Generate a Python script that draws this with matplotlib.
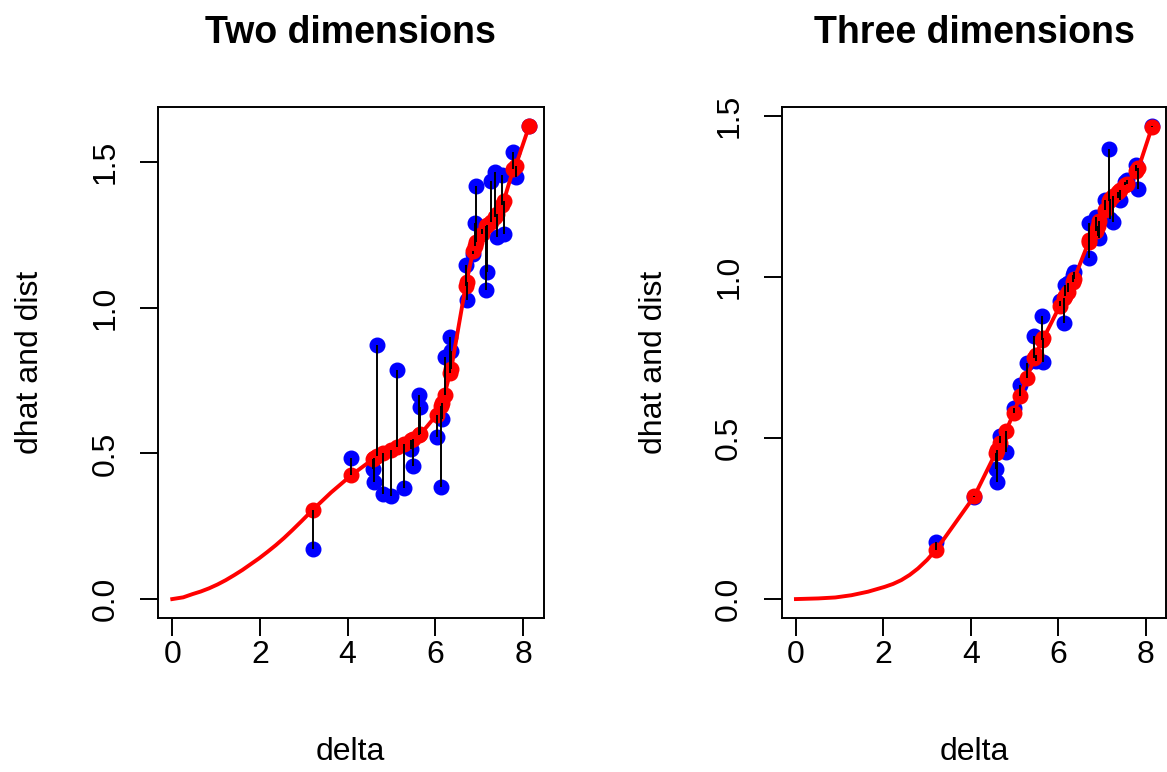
import numpy as np
import matplotlib.pyplot as plt

plt.rcParams['font.family'] = ['Liberation Sans', 'DejaVu Sans']

# Shepard diagram data
delta = [3.20, 4.08, 4.57, 4.60, 4.66, 4.80, 4.98, 5.12, 5.28, 5.45,
         5.48, 5.63, 5.66, 6.03, 6.12, 6.15, 6.21, 6.33, 6.36, 6.69,
         6.71, 6.86, 6.90, 6.93, 7.06, 7.16, 7.18, 7.26, 7.36, 7.41,
         7.52, 7.56, 7.78, 7.83, 8.14]

dist2 = [0.172, 0.486, 0.447, 0.401, 0.873, 0.360, 0.355, 0.787, 0.380, 0.516,
         0.456, 0.702, 0.659, 0.555, 0.385, 0.617, 0.830, 0.900, 0.853, 1.147,
         1.027, 1.184, 1.292, 1.419, 1.270, 1.061, 1.124, 1.436, 1.467, 1.244,
         1.456, 1.253, 1.536, 1.451, 1.625]
dhat2 = [0.306, 0.425, 0.480, 0.484, 0.492, 0.501, 0.512, 0.522, 0.534, 0.548,
         0.551, 0.563, 0.566, 0.633, 0.662, 0.675, 0.702, 0.775, 0.790, 1.075,
         1.090, 1.195, 1.212, 1.225, 1.255, 1.280, 1.285, 1.296, 1.312, 1.322,
         1.355, 1.368, 1.478, 1.488, 1.625]

dist3 = [0.178, 0.318, 0.403, 0.365, 0.508, 0.456, 0.595, 0.665, 0.732, 0.816,
         0.740, 0.881, 0.736, 0.925, 0.858, 0.975, 0.982, 1.006, 1.017, 1.168,
         1.059, 1.186, 1.128, 1.122, 1.239, 1.397, 1.181, 1.172, 1.245, 1.239,
         1.296, 1.303, 1.350, 1.275, 1.470]
dhat3 = [0.153, 0.320, 0.455, 0.462, 0.485, 0.522, 0.578, 0.630, 0.686, 0.750,
         0.757, 0.805, 0.810, 0.910, 0.935, 0.943, 0.955, 0.985, 0.995, 1.108,
         1.115, 1.145, 1.160, 1.175, 1.210, 1.238, 1.242, 1.252, 1.265, 1.272,
         1.285, 1.290, 1.330, 1.338, 1.466]

# extra points on the fitted curve where there are no observations
curve_x2 = [0.0, 0.25, 0.46, 0.65, 0.84, 1.03, 1.22, 1.41, 1.60, 1.79,
            1.98, 2.17, 2.36, 2.55, 2.74, 2.95, 3.62]
curve_y2 = [0.0, 0.006, 0.017, 0.026, 0.037, 0.050, 0.065, 0.082, 0.100, 0.120,
            0.140, 0.162, 0.185, 0.210, 0.237, 0.268, 0.366]
curve_x3 = [0.0, 0.51, 0.90, 1.27, 1.65, 2.03, 2.22, 2.41, 2.60, 2.79,
            3.00, 3.40, 3.62, 3.85]
curve_y3 = [0.0, 0.002, 0.005, 0.012, 0.023, 0.038, 0.047, 0.059, 0.075, 0.095,
            0.122, 0.190, 0.232, 0.276]

W, H = 1167, 772


def rlim(vals):
    lo, hi = min(vals), max(vals)
    r = hi - lo
    return lo - 0.04 * r, hi + 0.04 * r


def shepard(ax, dist, dhat, cx, cy, title):
    xs = np.concatenate([cx, delta])
    ys = np.concatenate([cy, dhat])
    o = np.argsort(xs, kind='stable')
    ax.plot(delta, dist, 'o', color='blue', ms=10.5, zorder=2)
    ax.plot(xs[o], ys[o], color='red', lw=2.8, zorder=3)
    ax.plot(delta, dhat, 'o', color='red', ms=10.5, zorder=3)
    ax.vlines(delta, dist, dhat, color='black', lw=1.4, zorder=4)

    ax.set_xlim(rlim(list(xs)))
    ax.set_ylim(rlim(list(dist) + list(ys)))
    ax.set_xticks([0, 2, 4, 6, 8])
    ax.set_yticks([0.0, 0.5, 1.0, 1.5])
    ax.set_yticklabels(['0.0', '0.5', '1.0', '1.5'], rotation=90, va='center')
    ax.tick_params(labelsize=23, length=13, width=1.4, pad=3)
    ax.tick_params(axis='y', pad=14)
    for s in ax.spines.values():
        s.set_linewidth(1.4)

    ax.set_title(title, fontsize=27, fontweight='bold', pad=46)
    ax.set_xlabel('delta', fontsize=23)
    ax.xaxis.set_label_coords(0.5, -0.262)
    ax.xaxis.label.set_va('center')
    ax.set_ylabel('dhat and dist', fontsize=23)
    ax.yaxis.set_label_coords(-0.333, 0.5)
    ax.yaxis.label.set_va('center')


fig = plt.figure(figsize=(W / 100, H / 100), dpi=100)
ax1 = fig.add_axes([158 / W, 1 - 618 / H, 385.5 / W, 511 / H])
ax2 = fig.add_axes([781.7 / W, 1 - 618 / H, 384.5 / W, 511 / H])

shepard(ax1, dist2, dhat2, curve_x2, curve_y2, 'Two dimensions')
shepard(ax2, dist3, dhat3, curve_x3, curve_y3, 'Three dimensions')

fig.savefig('out.png', dpi=100)
